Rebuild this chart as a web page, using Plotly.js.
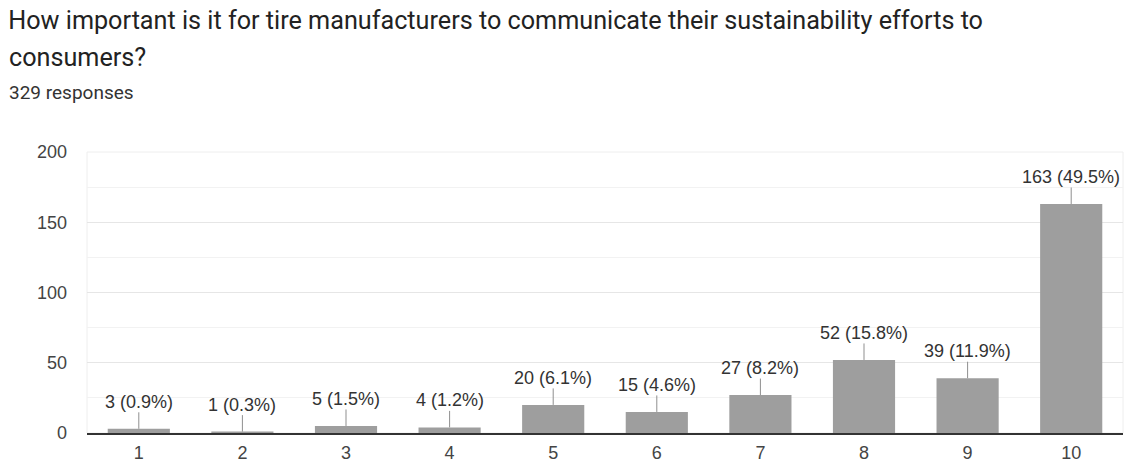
<!DOCTYPE html>
<html>
<head>
<meta charset="utf-8">
<script src="https://cdn.plot.ly/plotly-3.0.1.min.js"></script>
<style>
  html, body { margin: 0; padding: 0; background: #fff; }
  #chart { width: 1133px; height: 464px; }
</style>
</head>
<body>
<div id="chart"></div>
<script>
// Rating scale 1–10 and number of responses for each rating
const ratings = ['1', '2', '3', '4', '5', '6', '7', '8', '9', '10'];
const counts = [3, 1, 5, 4, 20, 15, 27, 52, 39, 163];
const shares = ['0.9%', '0.3%', '1.5%', '1.2%', '6.1%', '4.6%', '8.2%', '15.8%', '11.9%', '49.5%'];
const yTicks = [0, 50, 100, 150, 200];

const questionLine1 = ' How important is it for tire manufacturers to communicate their sustainability efforts to';
const questionLine2 = 'consumers?';
const responseNote = '329 responses';

const HEAD_FONT = 'Roboto, Arial, sans-serif';
const AXIS_FONT = '"Liberation Sans", Arial, sans-serif';
const W = 1133, H = 464;
const margin = { l: 87, r: 10, t: 152, b: 31 };
const plotW = W - margin.l - margin.r;
const plotH = H - margin.t - margin.b;

// helpers to place header text by pixel position relative to the plot area
const px = x => (x - margin.l) / plotW;
const py = y => (H - margin.b - y) / plotH;

const trace = {
  type: 'bar',
  x: ratings,
  y: counts,
  marker: { color: '#9e9e9e' },
  hoverinfo: 'skip'
};

// value labels with short leader lines above each bar
const valueLabels = ratings.map((r, i) => ({
  x: i,
  y: counts[i],
  xref: 'x',
  yref: 'y',
  text: counts[i] + ' (' + shares[i] + ')',
  showarrow: true,
  arrowhead: 0,
  arrowwidth: 1,
  arrowcolor: '#8f8f8f',
  ax: 0,
  ay: -27,
  standoff: 0,
  borderpad: 0,
  font: { family: AXIS_FONT, size: 18, color: '#333333' }
}));

const header = [
  { text: questionLine1, x: px(0), y: py(20), size: 25.2, color: '#222222' },
  { text: questionLine2, x: px(7), y: py(58), size: 25.2, color: '#222222' },
  { text: responseNote, x: px(7), y: py(92), size: 19, color: '#333333' }
].map(h => ({
  text: h.text,
  xref: 'paper',
  yref: 'paper',
  x: h.x,
  y: h.y,
  xanchor: 'left',
  yanchor: 'middle',
  showarrow: false,
  font: { family: HEAD_FONT, size: h.size, color: h.color }
}));

const layout = {
  width: W,
  height: H,
  margin: margin,
  paper_bgcolor: '#ffffff',
  plot_bgcolor: '#ffffff',
  showlegend: false,
  bargap: 0.4,
  font: { family: AXIS_FONT, size: 18, color: '#444444' },
  xaxis: {
    type: 'category',
    showgrid: false,
    showline: true,
    linecolor: '#333333',
    linewidth: 1.5,
    ticks: '',
    ticklabelstandoff: 3,
    tickfont: { family: AXIS_FONT, size: 18, color: '#444444' },
    fixedrange: true
  },
  yaxis: {
    range: [0, 200],
    tickvals: yTicks,
    ticktext: yTicks.map(String),
    showgrid: true,
    gridcolor: '#e6e6e6',
    gridwidth: 1,
    zeroline: false,
    showline: false,
    ticks: '',
    ticklabelstandoff: 19,
    tickfont: { family: AXIS_FONT, size: 18, color: '#444444' },
    minor: { dtick: 25, tick0: 0, showgrid: true, gridcolor: '#f2f2f2', gridwidth: 1 },
    fixedrange: true
  },
  shapes: [{
    type: 'rect',
    xref: 'paper', yref: 'paper',
    x0: 0, x1: 1, y0: 0, y1: 1,
    line: { color: '#eeeeee', width: 1 },
    layer: 'below'
  }],
  annotations: header.concat(valueLabels)
};

Plotly.newPlot('chart', [trace], layout, { displayModeBar: false, staticPlot: true });
</script>
</body>
</html>
